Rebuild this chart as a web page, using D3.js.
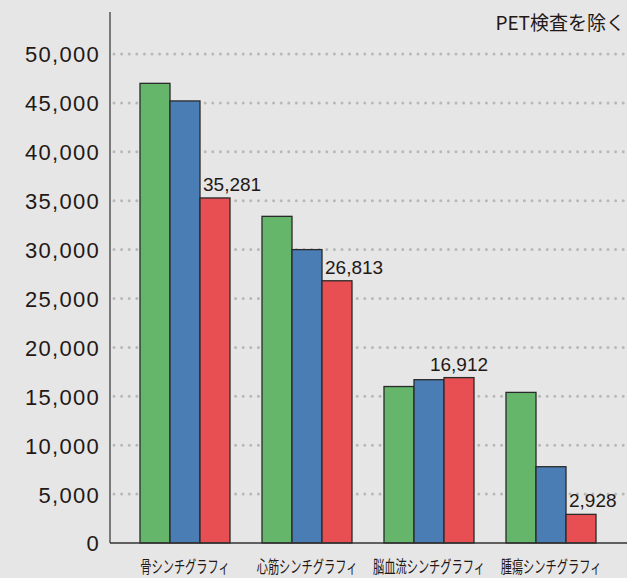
<!DOCTYPE html>
<html><head><meta charset="utf-8">
<script src="https://cdn.jsdelivr.net/npm/d3@7/dist/d3.min.js"></script>
<style>html,body{margin:0;padding:0;background:#e6e6e6;}svg{display:block;}</style>
</head><body>
<script>
const categories = ["骨シンチグラフィ","心筋シンチグラフィ","脳血流シンチグラフィ","腫瘍シンチグラフィ"];
const seriesNames = ["A","B","C"];
const seriesA = [47000, 33400, 16000, 15400];
const seriesB = [45200, 30000, 16700, 7800];
const seriesC = [35281, 26813, 16912, 2928];
const valueLabels = ["35,281","26,813","16,912","2,928"];
const yTicks = [0,5000,10000,15000,20000,25000,30000,35000,40000,45000,50000];
const title = "PET検査を除く";

const W = 627, H = 578;
const colors = ["#65b56a","#4a7db3","#e84f52"];
const svg = d3.select("body").append("svg").attr("width",W).attr("height",H);
svg.append("rect").attr("width",W).attr("height",H).attr("fill","#e6e6e6");

const y = d3.scaleLinear().domain([0,50000]).range([543,54]);
const x0 = d3.scaleBand().domain(categories).range([124,612]).paddingInner(32/122).paddingOuter(16/122);
const x1 = d3.scaleBand().domain(seriesNames).range([0,x0.bandwidth()]);

// grid
svg.append("g").selectAll("line").data(yTicks.filter(d=>d>0)).join("line")
  .attr("x1",114).attr("x2",W).attr("y1",d=>y(d)).attr("y2",d=>y(d))
  .attr("stroke","#b8b8b8").attr("stroke-width",3).attr("stroke-linecap","round")
  .attr("stroke-dasharray","0 7.6");

// y axis
const yAxis = d3.axisLeft(y).tickValues(yTicks).tickSize(0).tickPadding(10).tickFormat(d3.format(","));
const ya = svg.append("g").attr("transform","translate(110,0)").call(yAxis);
ya.select(".domain").remove();
ya.selectAll("text").attr("font-family","Liberation Sans, Arial, sans-serif").attr("font-size",22)
  .attr("fill","#231815").attr("letter-spacing",1.3).attr("dy","0.36em");
svg.append("line").attr("x1",110).attr("x2",110).attr("y1",12).attr("y2",543).attr("stroke","#555").attr("stroke-width",1.5);

// bars
const data = categories.map((c,i)=>({c, vals:[seriesA[i],seriesB[i],seriesC[i]]}));
const g = svg.append("g").selectAll("g").data(data).join("g").attr("transform",d=>`translate(${x0(d.c)},0)`);
g.selectAll("rect").data(d=>d.vals.map((v,j)=>({v,s:seriesNames[j],j}))).join("rect")
  .attr("x",d=>x1(d.s)).attr("width",x1.bandwidth()).attr("y",d=>y(d.v)).attr("height",d=>y(0)-y(d.v))
  .attr("fill",d=>colors[d.j]).attr("stroke","#2a2a2a").attr("stroke-width",1.3);

// x axis line
svg.append("line").attr("x1",110).attr("x2",W).attr("y1",543).attr("y2",543).attr("stroke","#333").attr("stroke-width",1.5);

// category labels (condensed)
svg.append("g").selectAll("text").data(categories).join("text")
  .attr("transform",d=>`translate(${x0(d)+x0.bandwidth()/2},573) scale(0.66,1)`)
  .attr("text-anchor","middle")
  .attr("font-family","Noto Sans CJK JP, sans-serif").attr("font-size",17)
  .attr("fill","#231815").text(d=>d);

// value labels
const anchors = ["start","start","middle","start"];
svg.append("g").selectAll("text").data(data).join("text")
  .attr("x",(d,i)=> anchors[i]==="middle" ? x0(d.c)+x1("C")+x1.bandwidth()/2 : x0(d.c)+x1("C")+3)
  .attr("y",(d,i)=>y(seriesC[i])-7)
  .attr("text-anchor",(d,i)=>anchors[i])
  .attr("font-family","Liberation Sans, Arial, sans-serif").attr("font-size",19).attr("fill","#231815")
  .text((d,i)=>valueLabels[i]);

// title
svg.append("text").attr("x",625).attr("y",30).attr("text-anchor","end")
  .attr("font-family","Noto Sans CJK JP, sans-serif").attr("font-size",19).attr("fill","#231815").text(title);
</script>
</body></html>
